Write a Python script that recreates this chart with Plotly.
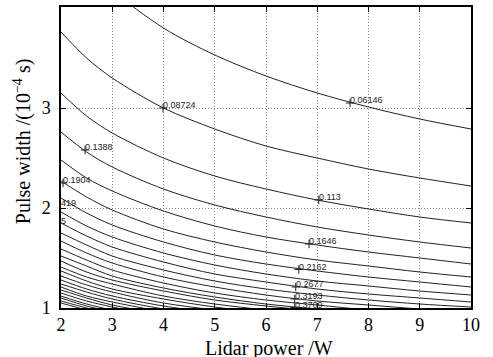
import plotly.graph_objects as go

# Lidar power (W) sample positions at which each contour's pulse width was read
powers = [2, 2.5, 3, 4, 5, 6, 7, 8, 9, 10]

# Contour levels
levels = [0.06146, 0.08724, 0.113, 0.1388, 0.1646, 0.1904, 0.2162, 0.2419,
          0.2677, 0.2935, 0.3193, 0.3451, 0.3709, 0.3966, 0.4224, 0.4482,
          0.4739, 0.4997, 0.5255, 0.5513, 0.5771, 0.6028, 0.6286, 0.6544,
          0.6802, 0.7060]

# Pulse width (1e-4 s) of each contour at the powers above
w01 = [4.79, 4.45, 4.18, 3.80, 3.53, 3.32, 3.15, 3.01, 2.89, 2.79]
w02 = [3.76, 3.50, 3.30, 3.00, 2.79, 2.62, 2.50, 2.39, 2.30, 2.22]
w03 = [3.15, 2.92, 2.75, 2.50, 2.32, 2.19, 2.08, 1.99, 1.91, 1.85]
w04 = [2.76, 2.56, 2.41, 2.19, 2.03, 1.91, 1.81, 1.73, 1.66, 1.60]
w05 = [2.48, 2.30, 2.17, 1.97, 1.82, 1.71, 1.63, 1.56, 1.50, 1.44]
w06 = [2.27, 2.11, 1.98, 1.79, 1.66, 1.56, 1.48, 1.42, 1.36, 1.31]
w07 = [2.10, 1.95, 1.83, 1.66, 1.53, 1.44, 1.37, 1.31, 1.26, 1.21]
w08 = [1.96, 1.82, 1.71, 1.55, 1.43, 1.34, 1.27, 1.22, 1.17, 1.13]
w09 = [1.85, 1.72, 1.61, 1.46, 1.34, 1.26, 1.19, 1.14, 1.10, 1.06]
w10 = [1.75, 1.63, 1.52, 1.38, 1.27, 1.19, 1.13, 1.08, 1.04, 1.01]
w11 = [1.67, 1.55, 1.45, 1.31, 1.21, 1.13, 1.07, 1.03, 0.99, 0.96]
w12 = [1.59, 1.48, 1.38, 1.25, 1.15, 1.08, 1.03, 0.98, 0.95]
w13 = [1.52, 1.42, 1.32, 1.20, 1.11, 1.04, 0.99, 0.95]
w14 = [1.47, 1.36, 1.28, 1.17, 1.08, 1.02, 0.97]
w15 = [1.41, 1.31, 1.24, 1.12, 1.04, 0.98, 0.93]
w16 = [1.37, 1.27, 1.19, 1.09, 1.01, 0.95]
w17 = [1.32, 1.23, 1.16, 1.05, 0.98, 0.92]
w18 = [1.28, 1.19, 1.12, 1.02, 0.95]
w19 = [1.24, 1.16, 1.09, 0.99, 0.92]
w20 = [1.21, 1.12, 1.06, 0.96]
w21 = [1.18, 1.10, 1.03, 0.94]
w22 = [1.15, 1.07, 1.01, 0.91]
w23 = [1.12, 1.04, 0.98, 0.89]
w24 = [1.10, 1.02, 0.96]
w25 = [1.07, 1.00, 0.94]
w26 = [1.05, 0.98, 0.92]
pulse_widths = [w01, w02, w03, w04, w05, w06, w07, w08, w09, w10, w11, w12, w13,
                w14, w15, w16, w17, w18, w19, w20, w21, w22, w23, w24, w25, w26]

# Contour labels (text, position of the '+' mark)
label_texts = ["0.06146", "0.08724", "0.113", "0.1388", "0.1646", "0.1904",
               "0.2162", "0.2677", "0.3193", "0.3709"]
label_power = [7.64, 3.99, 7.03, 2.47, 6.84, 2.04, 6.64, 6.58, 6.56, 6.56]
label_width = [3.05, 3.00, 2.08, 2.58, 1.64, 2.25, 1.385, 1.21, 1.09, 1.005]

# Labels cut off by the left frame
clipped_texts = ["419", "5"]
clipped_width = [2.055, 1.875]

x_ticks = [2, 3, 4, 5, 6, 7, 8, 9, 10]
y_ticks = [1, 2, 3]

x_title = "Lidar power /W"
y_title = "Pulse width /(10<sup>−4</sup> s)"

line_color = "#222222"
fig = go.Figure()
for lev, w in zip(levels, pulse_widths):
    fig.add_trace(go.Scatter(
        x=powers[:len(w)], y=w, mode="lines", name=str(lev),
        line=dict(color=line_color, width=1, shape="spline", smoothing=0.9),
        hoverinfo="skip", showlegend=False))

fig.add_trace(go.Scatter(
    x=label_power, y=label_width, mode="markers", showlegend=False,
    marker=dict(symbol="cross-thin", size=6, line=dict(color=line_color, width=1)),
    hoverinfo="skip"))

lab_font = dict(family="Liberation Sans, Arial, sans-serif", size=9, color=line_color)
for t, p, w in zip(label_texts, label_power, label_width):
    fig.add_annotation(x=p, y=w, text=t, showarrow=False, xanchor="left",
                       yanchor="bottom", xshift=-1, yshift=-3, font=lab_font,
                       borderpad=0)
for t, w in zip(clipped_texts, clipped_width):
    fig.add_annotation(x=x_ticks[0], y=w, text=t, showarrow=False, xanchor="left",
                       yanchor="middle", xshift=-1, font=lab_font, borderpad=0)

serif = "Liberation Serif, Times New Roman, serif"
axis_common = dict(
    showline=True, linecolor="black", linewidth=1.5, mirror="ticks",
    ticks="inside", ticklen=5, tickcolor="black", tickwidth=1,
    showgrid=True, gridcolor="#8a8a8a", griddash="1px,2px", gridwidth=1,
    zeroline=False, automargin=False,
    tickfont=dict(family=serif, size=18, color="black"),
)

title_font = dict(family=serif, size=20, color="black")
# Axis titles drawn as annotations for exact placement
fig.add_annotation(xref="paper", yref="paper", x=0, y=0.551, xshift=-39,
                   text=y_title, textangle=-90, showarrow=False,
                   xanchor="center", yanchor="middle", font=title_font, borderpad=0)
fig.add_annotation(xref="paper", yref="paper", x=0.5, y=-0.135, xshift=3,
                   text=x_title, showarrow=False,
                   xanchor="center", yanchor="middle", font=title_font, borderpad=0)

fig.update_layout(
    width=493, height=357,
    margin=dict(l=61, r=22, t=7, b=49),
    paper_bgcolor="white", plot_bgcolor="white",
    xaxis=dict(range=[2, 10], tickvals=x_ticks, ticktext=[str(v) for v in x_ticks],
               ticklabelstandoff=0, **axis_common),
    yaxis=dict(range=[1, 4.01], tickvals=y_ticks, ticktext=[str(v) for v in y_ticks],
               ticklabelstandoff=5, **axis_common),
)

fig.write_html("out.html", config={"displayModeBar": False},
               post_script="document.body.style.margin='0';")
